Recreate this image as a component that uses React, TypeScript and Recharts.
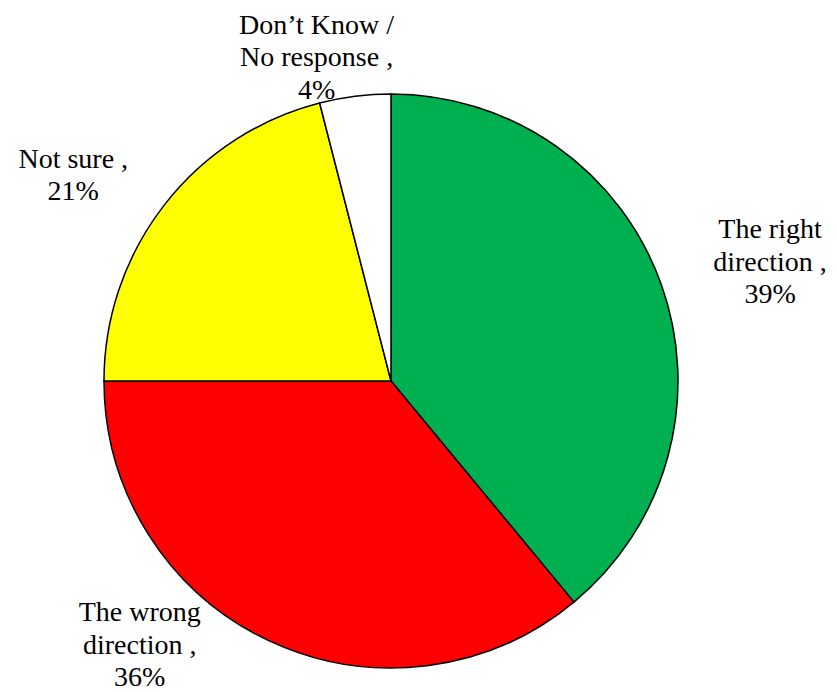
import { PieChart, Pie, Cell } from 'recharts';

// Survey answers, clockwise from 12 o'clock
const categories = ['The right\ndirection', 'The wrong\ndirection', 'Not sure', 'Don’t Know /\nNo response'];
const shares = [39, 36, 21, 4];
const sliceColors = ['#00B050', '#FF0000', '#FFFF00', '#FFFFFF'];

// where each label block sits: angle clockwise from top (deg) and distance from centre (px)
const labelAngle = [72.7, 223.5, 302.8, 347.0];
const labelDistance = [397, 365, 378, 331];

const chartData = categories.map((name, i) => ({ name, value: shares[i] }));

const FONT = '"Liberation Serif", "Times New Roman", serif';
const LINE_HEIGHT = 32.5;

const renderLabel = (props: any) => {
  const { cx, cy, index } = props;
  const entry = chartData[index];
  const lines = entry.name.split('\n');
  lines[lines.length - 1] = lines[lines.length - 1] + ' ,';
  lines.push(`${entry.value}%`);

  const rad = (labelAngle[index] * Math.PI) / 180;
  const x = cx + labelDistance[index] * Math.sin(rad);
  const y = cy - labelDistance[index] * Math.cos(rad);
  const top = y - ((lines.length - 1) / 2) * LINE_HEIGHT - 2;

  return (
    <text
      key={`lbl-${index}`}
      x={x}
      y={top}
      textAnchor="middle"
      dominantBaseline="central"
      fill="#000"
      fontFamily={FONT}
      fontSize={28}
    >
      {lines.map((line: string, i: number) => (
        <tspan key={i} x={x} y={top + i * LINE_HEIGHT} dominantBaseline="central">
          {line}
        </tspan>
      ))}
    </text>
  );
};

export default function App() {
  return (
    <div style={{ width: 829, height: 684, background: '#fff' }}>
      <PieChart width={829} height={684} margin={{ top: 0, right: 0, bottom: 0, left: 0 }}>
        <Pie
          data={chartData}
          dataKey="value"
          nameKey="name"
          cx={383}
          cy={373}
          outerRadius={287}
          startAngle={90}
          endAngle={-270}
          stroke="#000"
          strokeWidth={1.5}
          labelLine={false}
          label={renderLabel}
          isAnimationActive={false}
        >
          {chartData.map((entry, index) => (
            <Cell key={`cell-${index}`} fill={sliceColors[index]} />
          ))}
        </Pie>
      </PieChart>
    </div>
  );
}
